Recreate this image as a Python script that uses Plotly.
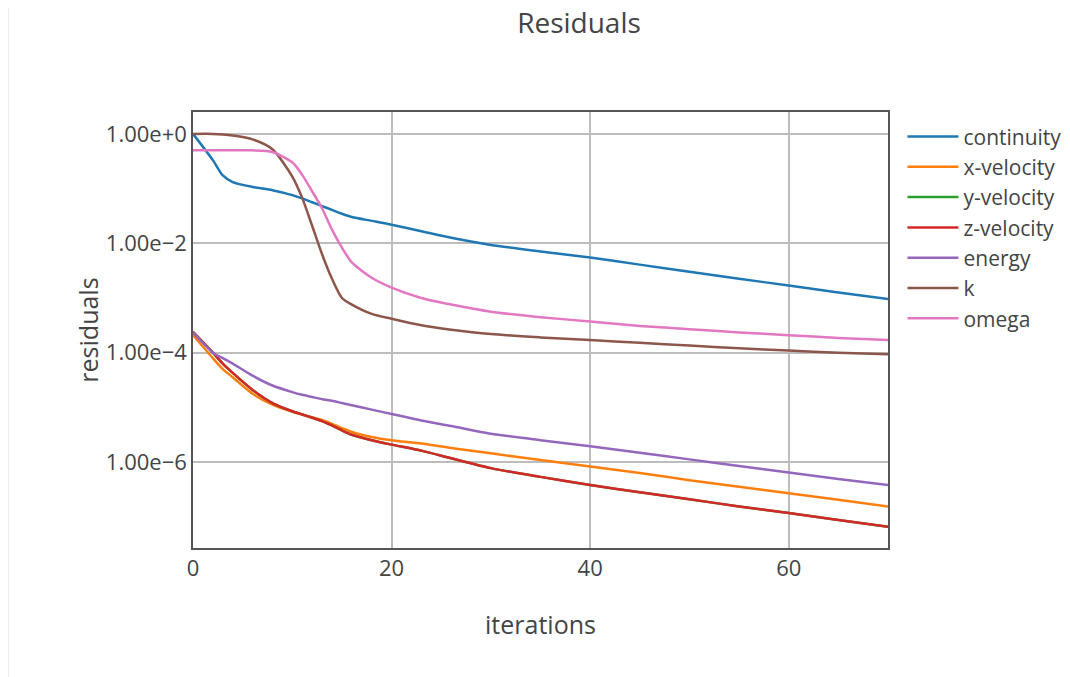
import plotly.graph_objects as go

iterations = [0, 2, 3, 4, 6, 8, 10, 11, 12, 13, 14, 15, 16, 18, 20, 23, 26, 30, 35, 40, 45, 50, 55, 60, 65, 70]

# residual values, stored as log10 exponents
continuity_exp = [0, -0.48, -0.76, -0.88, -0.97, -1.03, -1.12, -1.18, -1.25, -1.32, -1.39, -1.46, -1.52, -1.59, -1.66,
                  -1.78, -1.90, -2.03, -2.15, -2.26, -2.39, -2.52, -2.65, -2.77, -2.90, -3.02]
x_velocity_exp = [-3.68, -4.10, -4.30, -4.45, -4.75, -4.95, -5.08, -5.13, -5.18, -5.23, -5.30, -5.38, -5.45, -5.54, -5.60,
                  -5.66, -5.74, -5.84, -5.96, -6.08, -6.20, -6.33, -6.45, -6.57, -6.69, -6.81]
y_velocity_exp = [-3.62, -4.00, -4.20, -4.37, -4.68, -4.92, -5.07, -5.13, -5.19, -5.25, -5.33, -5.42, -5.50, -5.60, -5.68,
                  -5.79, -5.93, -6.11, -6.27, -6.42, -6.55, -6.68, -6.81, -6.93, -7.06, -7.18]
z_velocity_exp = [-3.62, -4.00, -4.20, -4.37, -4.68, -4.92, -5.07, -5.13, -5.19, -5.25, -5.33, -5.42, -5.50, -5.60, -5.68,
                  -5.79, -5.93, -6.11, -6.27, -6.42, -6.55, -6.68, -6.81, -6.93, -7.06, -7.18]
energy_exp = [-3.63, -4.00, -4.10, -4.20, -4.42, -4.60, -4.72, -4.77, -4.81, -4.85, -4.88, -4.92, -4.96, -5.04, -5.12,
              -5.24, -5.34, -5.48, -5.60, -5.71, -5.83, -5.95, -6.07, -6.19, -6.31, -6.42]
k_exp = [0, 0, -0.01, -0.03, -0.10, -0.28, -0.78, -1.17, -1.68, -2.20, -2.65, -3.00, -3.12, -3.29, -3.38,
         -3.50, -3.58, -3.66, -3.72, -3.77, -3.82, -3.87, -3.92, -3.96, -4.00, -4.03]
omega_exp = [-0.30, -0.30, -0.30, -0.30, -0.30, -0.33, -0.52, -0.75, -1.05, -1.36, -1.75, -2.08, -2.35, -2.63, -2.81,
             -3.00, -3.12, -3.25, -3.35, -3.43, -3.51, -3.57, -3.63, -3.68, -3.73, -3.77]

series_names = ["continuity", "x-velocity", "y-velocity", "z-velocity", "energy", "k", "omega"]
series_exps = [continuity_exp, x_velocity_exp, y_velocity_exp, z_velocity_exp, energy_exp, k_exp, omega_exp]
colors = ["#1f77b4", "#ff7f0e", "#2ca02c", "#d62728", "#9467bd", "#8c564b", "#e377c2"]

ytick_vals = [1e0, 1e-2, 1e-4, 1e-6]
xtick_vals = [0, 20, 40, 60]

fig = go.Figure()
for name, exps, c in zip(series_names, series_exps, colors):
    fig.add_trace(go.Scatter(
        x=iterations, y=[10 ** e for e in exps], name=name, mode="lines",
        line=dict(color=c, width=2.5, shape="spline", smoothing=0.7),
    ))

W, H = 1085, 669
PW = 695
font_family = "Open Sans, verdana, arial, sans-serif"
fig.update_layout(
    width=W, height=H,
    margin=dict(l=185, r=W - 185 - PW, t=104, b=129),
    paper_bgcolor="white", plot_bgcolor="white",
    font=dict(family=font_family, color="#444", size=22),
    title=dict(text="Residuals", x=571 / W, xanchor="center", y=1 - 5 / H, yanchor="top",
               font=dict(size=28, color="#444")),
    legend=dict(x=1.0208, xanchor="left", y=0.99, yanchor="top", font=dict(size=21), itemwidth=51,
                bgcolor="rgba(0,0,0,0)"),
    showlegend=True,
)
fig.update_xaxes(
    title=dict(text="iterations", font=dict(size=25), standoff=35),
    range=[0, 70], tickvals=xtick_vals, showgrid=True, gridcolor="#bdbdbd", gridwidth=2,
    showline=True, linecolor="#555", linewidth=1.5, mirror=True, zeroline=False, ticks="",
)
fig.update_yaxes(
    type="log", title=dict(text="residuals", font=dict(size=25), standoff=0),
    range=[-7.57, 0.40], tickvals=ytick_vals, tickformat=".2e", showgrid=True, gridcolor="#bdbdbd", gridwidth=2,
    showline=True, linecolor="#555", linewidth=1.5, mirror=True, zeroline=False, ticks="",
)
fig.add_shape(type="line", xref="paper", yref="paper", x0=-184.5 / PW, x1=-184.5 / PW, y0=-2, y1=1.3,
              line=dict(color="#ededed", width=1))

fig.write_html("out.html")
